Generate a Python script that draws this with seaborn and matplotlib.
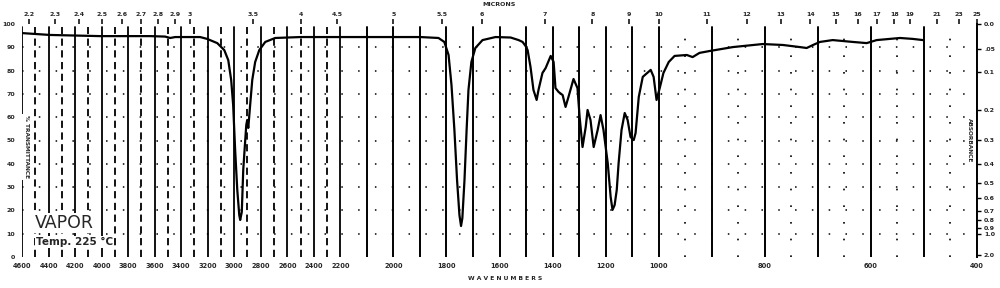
import numpy as np
import pandas as pd
import matplotlib
matplotlib.use("Agg")
import matplotlib.pyplot as plt
import seaborn as sns

# ---- data (wavenumber in cm-1, % transmittance) ----
wavenumber = [4600, 4389, 4011, 3634, 3521, 3483, 3445, 3257, 3204, 3128, 3075, 3045,
              3023, 3008, 2993, 2977, 2962, 2955, 2943, 2932, 2921, 2909, 2902, 2894,
              2883, 2864, 2842, 2811, 2766, 2691, 2502, 2200, 2049, 1898, 1830, 1808,
              1792, 1781, 1770, 1760, 1751, 1745, 1740, 1732, 1724, 1717, 1706, 1691,
              1664, 1615, 1558, 1528, 1513, 1502, 1494, 1483, 1472, 1460, 1453, 1438,
              1426, 1407, 1396, 1389, 1377, 1362, 1351, 1340, 1321, 1306, 1298, 1287,
              1275, 1268, 1257, 1245, 1230, 1219, 1208, 1192, 1181, 1174, 1166, 1158,
              1151, 1140, 1128, 1117, 1106, 1094, 1087, 1075, 1060, 1030, 1019, 1008,
              998, 991, 981, 970, 947, 936, 923, 904, 860, 804, 766, 734, 721, 709,
              696, 672, 634, 608, 589, 545, 521, 502]
transmittance = [96.1, 95.3, 94.8, 94.8, 94.6, 94.0, 94.4, 94.4, 93.6, 91.8, 88.8, 84.5,
                 76.0, 65.2, 45.9, 28.8, 18.0, 15.9, 19.3, 37.3, 46.8, 56.7, 58.8, 55.4,
                 63.1, 76.0, 83.7, 88.8, 92.3, 94.0, 94.4, 94.4, 94.4, 94.4, 94.0, 92.3,
                 86.7, 73.8, 54.5, 33.0, 18.0, 13.3, 16.7, 33.0, 54.5, 71.7, 83.7, 89.7,
                 93.1, 94.4, 94.2, 93.1, 92.3, 90.6, 88.8, 81.5, 71.7, 67.4, 71.7, 79.0,
                 81.1, 86.3, 83.7, 72.5, 70.8, 69.5, 64.4, 68.7, 76.4, 72.5, 60.1, 47.2,
                 55.8, 63.1, 58.8, 47.2, 54.5, 60.9, 54.5, 40.3, 25.8, 20.2, 22.3, 28.8,
                 40.3, 54.5, 61.8, 58.8, 51.5, 50.2, 53.2, 68.7, 77.3, 80.3, 77.3, 67.4,
                 72.5, 79.0, 83.7, 86.3, 86.7, 85.8, 87.6, 88.4, 90.1, 91.4, 91.0, 90.1,
                 89.7, 91.0, 92.3, 93.1, 92.3, 91.8, 93.1, 94.0, 93.6, 93.1]

wavenumber_ticks = [4600, 4400, 4200, 4000, 3800, 3600, 3400, 3200, 3000, 2800, 2600,
                    2400, 2200, 2000, 1800, 1600, 1400, 1200, 1000, 800, 600, 400]
micron_ticks = [2.2, 2.3, 2.4, 2.5, 2.6, 2.7, 2.8, 2.9, 3, 3.5, 4, 4.5, 5, 5.5, 6, 7,
                8, 9, 10, 11, 12, 13, 14, 15, 16, 17, 18, 19, 21, 23, 25]
transmittance_ticks = [100, 90, 80, 70, 60, 50, 40, 30, 20, 10, 0]
absorbance_ticks = [0.0, 0.05, 0.1, 0.2, 0.3, 0.4, 0.5, 0.6, 0.7, 0.8, 0.9, 1.0, 2.0]
absorbance_labels = ["0.0", ".05", "0.1", "0.2", "0.3", "0.4", "0.5", "0.6", "0.7",
                     "0.8", "0.9", "1.0", "2.0"]

df = pd.DataFrame({"wavenumber": wavenumber, "transmittance": transmittance})

# ---- piecewise-linear chart scale (three equal-width panels) ----
BREAK_WN = [400, 1000, 2200, 4600]
BREAK_U = [0.0, 1.0, 2.0, 3.0]


def fwd(x):
    return np.interp(np.asarray(x, dtype=float), BREAK_WN, BREAK_U)


def inv(u):
    return np.interp(np.asarray(u, dtype=float), BREAK_U, BREAK_WN)


sns.set_theme(style="white")
plt.rcParams['font.family'] = ['DejaVu Sans']

W, H = 1000, 288
fig = plt.figure(figsize=(W / 100, H / 100), dpi=100)
fig.patch.set_facecolor("white")
left_px, right_px, top_px, bot_px = 22, 977, 24, 257
ax = fig.add_axes([left_px / W, 1 - bot_px / H, (right_px - left_px) / W,
                   (bot_px - top_px) / H])
ax.set_facecolor("white")
ax.set_xscale("function", functions=(fwd, inv))

# grid
for wn in range(4600, 399, -50):
    if wn >= 2200:
        if wn % 100:
            continue
        style = "-" if wn % 200 == 0 else (0, (4, 2.5))
        lw = 1.3
    else:
        if wn % 100 == 0:
            style, lw = "-", 1.4
        elif wn < 1000:
            style, lw = (0, (1, 9)), 1.2
        else:
            continue
    ax.axvline(wn, ymin=0, ymax=0.985, color="black", lw=lw, ls=style, zorder=1)
for t in transmittance_ticks[1:-1]:
    ax.axhline(t, color="black", lw=1.1, ls=(0, (1, 10)), zorder=1)

sns.lineplot(data=df, x="wavenumber", y="transmittance", ax=ax, color="black",
             lw=1.6, estimator=None, sort=False, zorder=3)

ax.set_xlim(4600, 400)
ax.set_ylim(0, 100)
ax.set_xlabel("")
ax.set_ylabel("")
for s in ["top", "bottom", "left", "right"]:
    ax.spines[s].set_visible(False)

ax.set_xticks(wavenumber_ticks)
ax.set_xticklabels([str(v) for v in wavenumber_ticks], fontsize=4.8, fontweight="bold")
ax.tick_params(axis="x", length=0, pad=4)
ax.set_yticks(transmittance_ticks)
ax.set_yticklabels([str(v) for v in transmittance_ticks], fontsize=4.5, fontweight="bold")
ax.tick_params(axis="y", length=0, pad=5)
ax.grid(False)

# top micron axis
axt = ax.twiny()
axt.set_xscale("function", functions=(fwd, inv))
axt.set_xlim(4600, 400)
axt.set_xticks([10000.0 / m for m in micron_ticks])
axt.set_xticklabels([("%g" % m) for m in micron_ticks], fontsize=4.5, fontweight="bold")
axt.tick_params(axis="x", top=True, length=3.5, width=1.1, color="black", pad=1.5,
                direction="out")
for s in axt.spines.values():
    s.set_visible(False)
axt.grid(False)

# right absorbance axis
axr = ax.twinx()
axr.set_ylim(0, 100)
axr.set_yticks([100 * 10 ** (-a) for a in absorbance_ticks])
axr.set_yticklabels(absorbance_labels, fontsize=4.5, fontweight="bold")
axr.tick_params(axis="y", right=True, length=3, width=1, color="black", pad=2)
for s in ["top", "bottom", "left"]:
    axr.spines[s].set_visible(False)
axr.spines["right"].set_color("black")
axr.spines["right"].set_linewidth(1.4)
axr.grid(False)

# annotations
box = dict(facecolor="white", edgecolor="none", pad=1.0)
fig.text(499 / W, 1 - 5 / H, "MICRONS", ha="center", va="center", fontsize=4.5,
         fontweight="bold")
fig.text(505 / W, 1 - 278 / H, "W A V E N U M B E R S", ha="center", va="center",
         fontsize=4.3, fontweight="bold")
fig.text(35 / W, 1 - 223 / H, "VAPOR", ha="left", va="center", fontsize=12.5,
         bbox=box, zorder=5)
fig.text(36 / W, 1 - 242 / H, "Temp. 225 °C", ha="left", va="center", fontsize=7.5,
         fontweight="bold", bbox=box, zorder=5)
fig.text(26 / W, 1 - 147 / H, "% TRANSMITTANCE", ha="center", va="center",
         rotation=270, fontsize=4.2, fontweight="bold", bbox=box, zorder=5)
fig.text(969 / W, 1 - 140 / H, "ABSORBANCE", ha="center", va="center",
         rotation=270, fontsize=4.2, fontweight="bold", bbox=box, zorder=5)

fig.savefig("out.png", dpi=100, facecolor="white")
